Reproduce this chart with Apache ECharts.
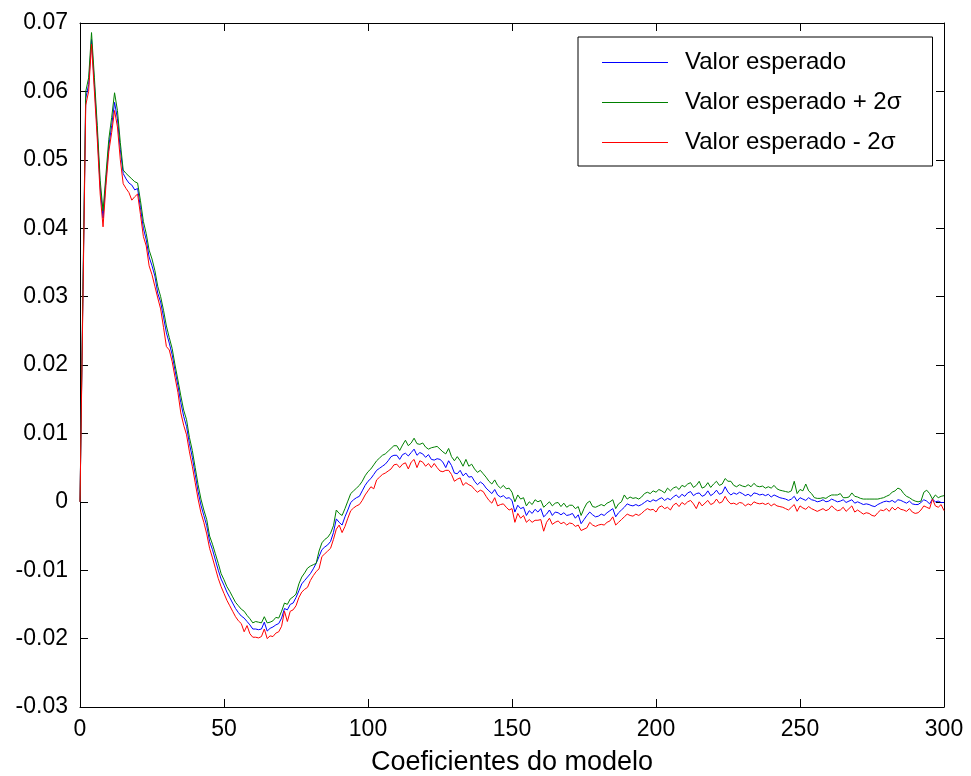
<!DOCTYPE html>
<html>
<head>
<meta charset="utf-8">
<script src="https://cdn.jsdelivr.net/npm/echarts@6/dist/echarts.min.js"></script>
<style>
html,body{margin:0;padding:0;background:#fff;}
#chart{width:971px;height:776px;}
</style>
</head>
<body>
<div id="chart"></div>
<script>
const seriesNames = ['Valor esperado', 'Valor esperado + 2\u03c3', 'Valor esperado - 2\u03c3'];
const xTicks = [0, 50, 100, 150, 200, 250, 300];
const yTicks = [-0.03, -0.02, -0.01, 0, 0.01, 0.02, 0.03, 0.04, 0.05, 0.06, 0.07];
const xLabel = 'Coeficientes do modelo';

const valorEsperado = [
0, 0.030, 0.059, 0.061, 0.0676, 0.061, 0.054, 0.046, 0.0415, 0.047,
0.052, 0.055, 0.0584, 0.056, 0.0515, 0.0480, 0.0472, 0.0466, 0.0463, 0.0456,
0.0458, 0.0430, 0.0400, 0.0383, 0.0358, 0.0345, 0.0330, 0.0305, 0.0292, 0.0270,
0.0247, 0.0232, 0.0215, 0.0192, 0.0170, 0.0145, 0.0125, 0.0110, 0.0085, 0.0065,
0.0040, 0.0015, -0.0005, -0.0020, -0.0035, -0.0058, -0.0070, -0.0085, -0.0100, -0.0113,
-0.0122, -0.0132, -0.0140, -0.0148, -0.0156, -0.0162, -0.0167, -0.0170, -0.0175, -0.0180,
-0.0186, -0.0186, -0.0187, -0.0186, -0.0176, -0.0189, -0.0185, -0.0183, -0.0180, -0.0178,
-0.0170, -0.0156, -0.0158, -0.0150, -0.0148, -0.0140, -0.0130, -0.0120, -0.0115, -0.0110,
-0.0105, -0.0098, -0.0090, -0.0080, -0.0070, -0.0066, -0.0063, -0.0058, -0.0045, -0.0025,
-0.0030, -0.0034, -0.0022, -0.0012, -0.0001, 0.0003, 0.0006, 0.0008, 0.0016, 0.0024,
0.0030, 0.0034, 0.0040, 0.0046, 0.0049, 0.0052, 0.0055, 0.0060, 0.0066, 0.0068,
0.0068, 0.0062, 0.0069, 0.0071, 0.0067, 0.0072, 0.0077, 0.0068, 0.0072, 0.0070,
0.0065, 0.0069, 0.0062, 0.0061, 0.0063, 0.0062, 0.0058, 0.0050, 0.0060, 0.0053,
0.0042, 0.0041, 0.0046, 0.0038, 0.0042, 0.0036, 0.0037, 0.0030, 0.0025, 0.0029,
0.0026, 0.0020, 0.0016, 0.0012, 0.0018, 0.0010, 0.0007, 0.0009, 0.0005, 0.0006,
0.0002, -0.0015, -0.0005, -0.0010, -0.0008, -0.0020, -0.0013, -0.0017, -0.0011, -0.0015,
-0.0010, -0.0022, -0.0018, -0.0012, -0.0020, -0.0015, -0.0016, -0.0019, -0.0016, -0.0020,
-0.0019, -0.0017, -0.0024, -0.0019, -0.0032, -0.0026, -0.0020, -0.0015, -0.0019, -0.0022,
-0.0021, -0.0018, -0.0020, -0.0016, -0.0013, -0.0010, -0.0022, -0.0016, -0.0012, -0.0008,
-0.0003, -0.0005, -0.0006, -0.0004, -0.0006, -0.0004, -0.0001, 0.0002, 0.0000, 0.0003,
0.0001, 0.0004, 0.0006, 0.0002, 0.0005, 0.0003, 0.0007, 0.0010, 0.0006, 0.0011,
0.0008, 0.0013, 0.0015, 0.0009, 0.0012, 0.0013, 0.0008, 0.0010, 0.0016, 0.0009,
0.0012, 0.0017, 0.0011, 0.0013, 0.0022, 0.0014, 0.0010, 0.0013, 0.0011, 0.0014,
0.0012, 0.0009, 0.0011, 0.0008, 0.0013, 0.0012, 0.0010, 0.0011, 0.0009, 0.0011,
0.0007, 0.0010, 0.0008, 0.0006, 0.0005, 0.0004, 0.0002, 0.0004, 0.0008, 0.0001,
0.0006, 0.0004, 0.0002, 0.0006, 0.0003, 0.0002, 0.0000, 0.0001, 0.0003, 0.0000,
0.0001, 0.0004, 0.0002, 0.0000, 0.0001, 0.0003, -0.0001, 0.0001, 0.0003, -0.0002,
0.0000, -0.0002, -0.0004, -0.0003, -0.0004, -0.0006, -0.0007, -0.0004, -0.0002, 0.0000,
0.0001, 0.0000, 0.0002, -0.0001, 0.0003, 0.0002, 0.0000, -0.0002, 0.0001, -0.0003,
-0.0004, -0.0004, -0.0001, 0.0003, 0.0001, -0.0003, 0.0004, 0.0000, 0.0001, -0.0001,
-0.0001
];

const valorMais2Sigma = [
0, 0.031, 0.060, 0.062, 0.0686, 0.062, 0.055, 0.047, 0.0425, 0.0478,
0.0530, 0.0562, 0.0598, 0.0572, 0.0525, 0.0485, 0.0480, 0.0476, 0.0472, 0.0468,
0.0466, 0.0440, 0.0410, 0.0392, 0.0368, 0.0355, 0.0338, 0.0315, 0.0300, 0.0280,
0.0257, 0.0240, 0.0224, 0.0200, 0.0178, 0.0155, 0.0134, 0.0120, 0.0094, 0.0075,
0.0050, 0.0025, 0.0004, -0.0012, -0.0026, -0.0050, -0.0062, -0.0076, -0.0090, -0.0105,
-0.0114, -0.0124, -0.0131, -0.0139, -0.0147, -0.0152, -0.0157, -0.0160, -0.0166, -0.0171,
-0.0177, -0.0175, -0.0176, -0.0177, -0.0168, -0.0177, -0.0176, -0.0174, -0.0169, -0.0170,
-0.0160, -0.0148, -0.0150, -0.0142, -0.0139, -0.0135, -0.0120, -0.0110, -0.0104, -0.0097,
-0.0094, -0.0092, -0.0090, -0.0072, -0.0060, -0.0055, -0.0052, -0.0046, -0.0035, -0.0012,
-0.0017, -0.0020, -0.0010, 0.0001, 0.0012, 0.0016, 0.0020, 0.0024, 0.0030, 0.0038,
0.0044, 0.0048, 0.0054, 0.0060, 0.0064, 0.0068, 0.0070, 0.0074, 0.0078, 0.0082,
0.0082, 0.0075, 0.0083, 0.0090, 0.0082, 0.0086, 0.0093, 0.0085, 0.0084, 0.0086,
0.0080, 0.0077, 0.0079, 0.0080, 0.0081, 0.0077, 0.0073, 0.0070, 0.0078, 0.0066,
0.0060, 0.0066, 0.0060, 0.0052, 0.0062, 0.0052, 0.0055, 0.0048, 0.0043, 0.0046,
0.0041, 0.0036, 0.0030, 0.0026, 0.0032, 0.0024, 0.0020, 0.0024, 0.0019, 0.0020,
0.0014, 0.0000, 0.0010, 0.0004, 0.0006, -0.0006, 0.0000, -0.0004, 0.0003, 0.0000,
0.0002, -0.0008, -0.0004, 0.0000, -0.0006, -0.0002, -0.0001, -0.0007, -0.0002, -0.0008,
-0.0005, -0.0005, -0.0010, -0.0007, -0.0020, -0.0010, -0.0002, 0.0001, -0.0007, -0.0008,
-0.0006, -0.0004, -0.0006, -0.0002, 0.0000, 0.0003, -0.0010, -0.0003, 0.0000, 0.0010,
0.0004, 0.0007, 0.0005, 0.0006, 0.0004, 0.0007, 0.0012, 0.0014, 0.0012, 0.0016,
0.0014, 0.0018, 0.0016, 0.0013, 0.0020, 0.0016, 0.0020, 0.0022, 0.0018, 0.0024,
0.0022, 0.0026, 0.0028, 0.0021, 0.0024, 0.0030, 0.0020, 0.0022, 0.0028, 0.0021,
0.0026, 0.0030, 0.0024, 0.0026, 0.0034, 0.0030, 0.0030, 0.0024, 0.0022, 0.0025,
0.0023, 0.0022, 0.0025, 0.0022, 0.0027, 0.0023, 0.0022, 0.0023, 0.0020, 0.0022,
0.0020, 0.0024, 0.0019, 0.0017, 0.0016, 0.0015, 0.0014, 0.0016, 0.0030, 0.0012,
0.0018, 0.0016, 0.0026, 0.0016, 0.0012, 0.0006, 0.0005, 0.0005, 0.0006, 0.0005,
0.0008, 0.0010, 0.0010, 0.0010, 0.0012, 0.0006, 0.0006, 0.0007, 0.0013, 0.0008,
0.0007, 0.0005, 0.0004, 0.0004, 0.0004, 0.0004, 0.0004, 0.0004, 0.0005, 0.0006,
0.0008, 0.0010, 0.0014, 0.0016, 0.0020, 0.0018, 0.0012, 0.0008, 0.0006, 0.0003,
0.0001, 0.0000, 0.0001, 0.0014, 0.0017, 0.0012, 0.0004, 0.0010, 0.0006, 0.0008,
0.0009
];

const valorMenos2Sigma = [
0, 0.029, 0.058, 0.060, 0.0669, 0.060, 0.053, 0.045, 0.0402, 0.0462,
0.0512, 0.0540, 0.0572, 0.0548, 0.0500, 0.0465, 0.0458, 0.0452, 0.0441, 0.0446,
0.0450, 0.0420, 0.0388, 0.0374, 0.0345, 0.0332, 0.0315, 0.0298, 0.0282, 0.0255,
0.0227, 0.0222, 0.0205, 0.0182, 0.0160, 0.0130, 0.0112, 0.0098, 0.0073, 0.0052,
0.0028, 0.0004, -0.0016, -0.0030, -0.0047, -0.0068, -0.0082, -0.0097, -0.0112, -0.0124,
-0.0134, -0.0144, -0.0152, -0.0160, -0.0168, -0.0174, -0.0178, -0.0190, -0.0181, -0.0193,
-0.0198, -0.0198, -0.0199, -0.0197, -0.0186, -0.0200, -0.0196, -0.0197, -0.0192, -0.0190,
-0.0182, -0.0160, -0.0175, -0.0160, -0.0158, -0.0152, -0.0140, -0.0132, -0.0128, -0.0125,
-0.0115, -0.0108, -0.0102, -0.0098, -0.0080, -0.0076, -0.0072, -0.0068, -0.0055, -0.0040,
-0.0034, -0.0045, -0.0036, -0.0024, -0.0013, -0.0009, -0.0006, -0.0004, 0.0002, 0.0010,
0.0016, 0.0022, 0.0019, 0.0032, 0.0036, 0.0040, 0.0042, 0.0045, 0.0048, 0.0054,
0.0055, 0.0050, 0.0055, 0.0057, 0.0048, 0.0058, 0.0062, 0.0050, 0.0060, 0.0058,
0.0052, 0.0056, 0.0050, 0.0056, 0.0050, 0.0045, 0.0044, 0.0046, 0.0046, 0.0040,
0.0030, 0.0033, 0.0035, 0.0024, 0.0028, 0.0025, 0.0023, 0.0018, 0.0014, 0.0017,
0.0015, 0.0008, 0.0002, -0.0002, 0.0006, -0.0006, -0.0004, -0.0003, -0.0008, -0.0012,
-0.0010, -0.0030, -0.0017, -0.0024, -0.0020, -0.0030, -0.0026, -0.0030, -0.0027, -0.0027,
-0.0026, -0.0043, -0.0030, -0.0024, -0.0033, -0.0030, -0.0028, -0.0032, -0.0030, -0.0034,
-0.0031, -0.0032, -0.0036, -0.0034, -0.0042, -0.0040, -0.0038, -0.0030, -0.0034, -0.0036,
-0.0034, -0.0033, -0.0034, -0.0030, -0.0028, -0.0022, -0.0034, -0.0030, -0.0026, -0.0022,
-0.0018, -0.0020, -0.0021, -0.0018, -0.0020, -0.0017, -0.0013, -0.0010, -0.0012, -0.0011,
-0.0015, -0.0008, -0.0006, -0.0010, -0.0008, -0.0012, -0.0005, -0.0002, -0.0007, -0.0001,
-0.0004, 0.0000, 0.0002, -0.0003, -0.0010, 0.0000, -0.0006, -0.0002, 0.0002, -0.0004,
-0.0002, 0.0004, -0.0002, 0.0000, 0.0008, 0.0001, -0.0003, -0.0002, -0.0004, -0.0001,
-0.0002, -0.0006, -0.0003, -0.0005, 0.0000, -0.0002, -0.0003, -0.0002, -0.0004, -0.0002,
-0.0006, -0.0003, -0.0006, -0.0007, -0.0008, -0.0010, -0.0012, -0.0008, -0.0004, -0.0014,
-0.0006, -0.0009, -0.0011, -0.0007, -0.0010, -0.0012, -0.0014, -0.0012, -0.0010, -0.0013,
-0.0011, -0.0006, -0.0010, -0.0013, -0.0012, -0.0008, -0.0014, -0.0010, -0.0006, -0.0015,
-0.0012, -0.0015, -0.0018, -0.0016, -0.0017, -0.0020, -0.0021, -0.0016, -0.0012, -0.0013,
-0.0010, -0.0014, -0.0008, -0.0012, -0.0008, -0.0011, -0.0012, -0.0014, -0.0010, -0.0015,
-0.0017, -0.0016, -0.0012, -0.0006, -0.0008, -0.0010, 0.0004, -0.0006, -0.0008, -0.0004,
-0.0013
];

const FONT = '"Liberation Sans", Arial, sans-serif';
const toPairs = arr => arr.map((v, i) => [i, v]);
const fmtY = v => String(parseFloat(Number(v).toFixed(2)));

const chart = echarts.init(document.getElementById('chart'), null, {renderer: 'canvas'});

const axisLine = {show: true, onZero: false, lineStyle: {color: '#000', width: 1}};
const axisTick = {show: true, inside: true, length: 8, lineStyle: {color: '#000', width: 1}};

chart.setOption({
  animation: false,
  backgroundColor: '#fff',
  grid: {left: 80, right: 27, top: 23, bottom: 69, containLabel: false, outerBoundsMode: 'none'},
  legend: {
    orient: 'vertical',
    left: 578,
    top: 37,
    data: seriesNames,
    icon: 'rect',
    itemWidth: 66,
    itemHeight: 1,
    itemGap: 13,
    padding: [12, 31, 10, 24],
    borderColor: '#000',
    borderWidth: 1,
    backgroundColor: '#fff',
    textStyle: {fontFamily: FONT, fontSize: 24, color: '#000', padding: [0, 0, 0, 12], lineHeight: 27}
  },
  xAxis: [
    {
      type: 'value', min: xTicks[0], max: xTicks[xTicks.length - 1], interval: 50,
      position: 'bottom',
      name: xLabel, nameLocation: 'middle', nameGap: 42,
      nameTextStyle: {fontFamily: FONT, fontSize: 27, color: '#000'},
      axisLine: axisLine, axisTick: axisTick,
      axisLabel: {fontFamily: FONT, fontSize: 23, color: '#000', margin: 11},
      splitLine: {show: false}
    },
    {
      type: 'value', min: xTicks[0], max: xTicks[xTicks.length - 1], interval: 50,
      position: 'top',
      axisLine: axisLine, axisTick: axisTick,
      axisLabel: {show: false}, splitLine: {show: false}
    }
  ],
  yAxis: [
    {
      type: 'value', min: yTicks[0], max: yTicks[yTicks.length - 1], interval: 0.01,
      position: 'left',
      axisLine: axisLine, axisTick: axisTick,
      axisLabel: {fontFamily: FONT, fontSize: 23, color: '#000', margin: 12, formatter: fmtY},
      splitLine: {show: false}
    },
    {
      type: 'value', min: yTicks[0], max: yTicks[yTicks.length - 1], interval: 0.01,
      position: 'right',
      axisLine: axisLine, axisTick: axisTick,
      axisLabel: {show: false}, splitLine: {show: false}
    }
  ],
  series: [
    {name: seriesNames[0], type: 'line', data: toPairs(valorEsperado), symbol: 'none', showSymbol: false,
     lineStyle: {color: '#0000ff', width: 1}, itemStyle: {color: '#0000ff'}},
    {name: seriesNames[1], type: 'line', data: toPairs(valorMais2Sigma), symbol: 'none', showSymbol: false,
     lineStyle: {color: '#008000', width: 1}, itemStyle: {color: '#008000'}},
    {name: seriesNames[2], type: 'line', data: toPairs(valorMenos2Sigma), symbol: 'none', showSymbol: false,
     lineStyle: {color: '#ff0000', width: 1}, itemStyle: {color: '#ff0000'}}
  ]
});
</script>
</body>
</html>
